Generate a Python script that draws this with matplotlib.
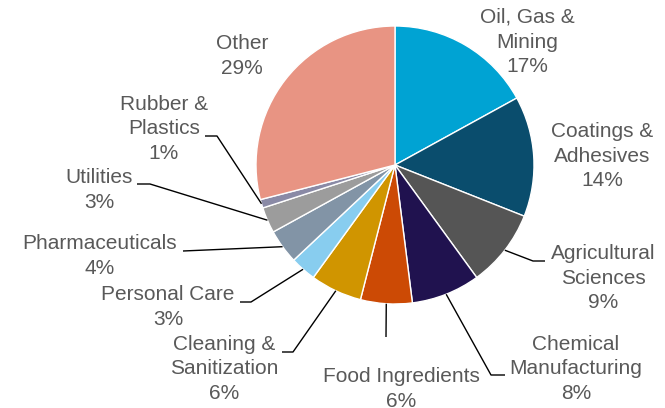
import numpy as np
import matplotlib.pyplot as plt

# 数据
labels = ['Oil, Gas &\nMining', 'Coatings &\nAdhesives', 'Agricultural\nSciences',
          'Chemical\nManufacturing', 'Food Ingredients', 'Cleaning &\nSanitization',
          'Personal Care', 'Pharmaceuticals', 'Utilities', 'Rubber &\nPlastics', 'Other']
values = [17, 14, 9, 8, 6, 6, 3, 4, 3, 1, 29]
colors = ['#00A3D3', '#0A4D6D', '#555555', '#20124F', '#CC4A05', '#D09500',
          '#88CDEF', '#8294A6', '#9C9C9C', '#8A8AA6', '#E89483']

# 布局 (像素坐标)
cx, cy, r = 395, 165, 139
text_pos = [(527, 42), (602, 156), (603, 278), (576, 369), (401, 389), (224, 369),
            (168, 307), (100, 256), (99, 190), (164, 129), (242, 56)]
# 引线: 拐点和终点, None表示没有引线
leaders = [None, None,
           [(533, 261), (545, 261)],
           [(491, 375), (505, 375)],
           [(386, 337)],
           [(293, 352), (282, 352)],
           [(251, 302), (240, 302)],
           [(183, 251)],
           [(150, 184), (137, 184)],
           [(217, 136), (205, 136)],
           None]

plt.rcParams['font.family'] = ['Liberation Sans', 'DejaVu Sans']

fig = plt.figure(figsize=(6.65, 4.08), dpi=100)
ax = fig.add_axes([0, 0, 1, 1])

# y轴反向, 所以 counterclock=True 在屏幕上是顺时针
wedges, _ = ax.pie(values, colors=colors, startangle=-90, counterclock=True,
                   center=(cx, cy), radius=r, frame=True,
                   wedgeprops=dict(edgecolor='white', linewidth=1.0))

ax.set_xlim(0, 665)
ax.set_ylim(408, 0)
ax.set_aspect('equal')
ax.axis('off')

total = sum(values)
cum = np.cumsum([0] + values)
for i, lab in enumerate(labels):
    pct = values[i] / total * 100
    ax.text(text_pos[i][0], text_pos[i][1], f'{lab}\n{pct:.0f}%', ha='center', va='center',
            multialignment='center', fontsize=15, color='#595959', linespacing=1.38)
    if leaders[i] is None:
        continue
    # 引线起点: 扇形外边的中点
    mid = (cum[i] + cum[i + 1]) / 2 / total * 2 * np.pi
    x0 = cx + r * np.sin(mid)
    y0 = cy - r * np.cos(mid)
    pts = [(x0, y0)] + leaders[i]
    xs, ys = zip(*pts)
    ax.plot(xs, ys, color='black', linewidth=1.0, solid_capstyle='butt')

fig.savefig('out.png', dpi=100)
